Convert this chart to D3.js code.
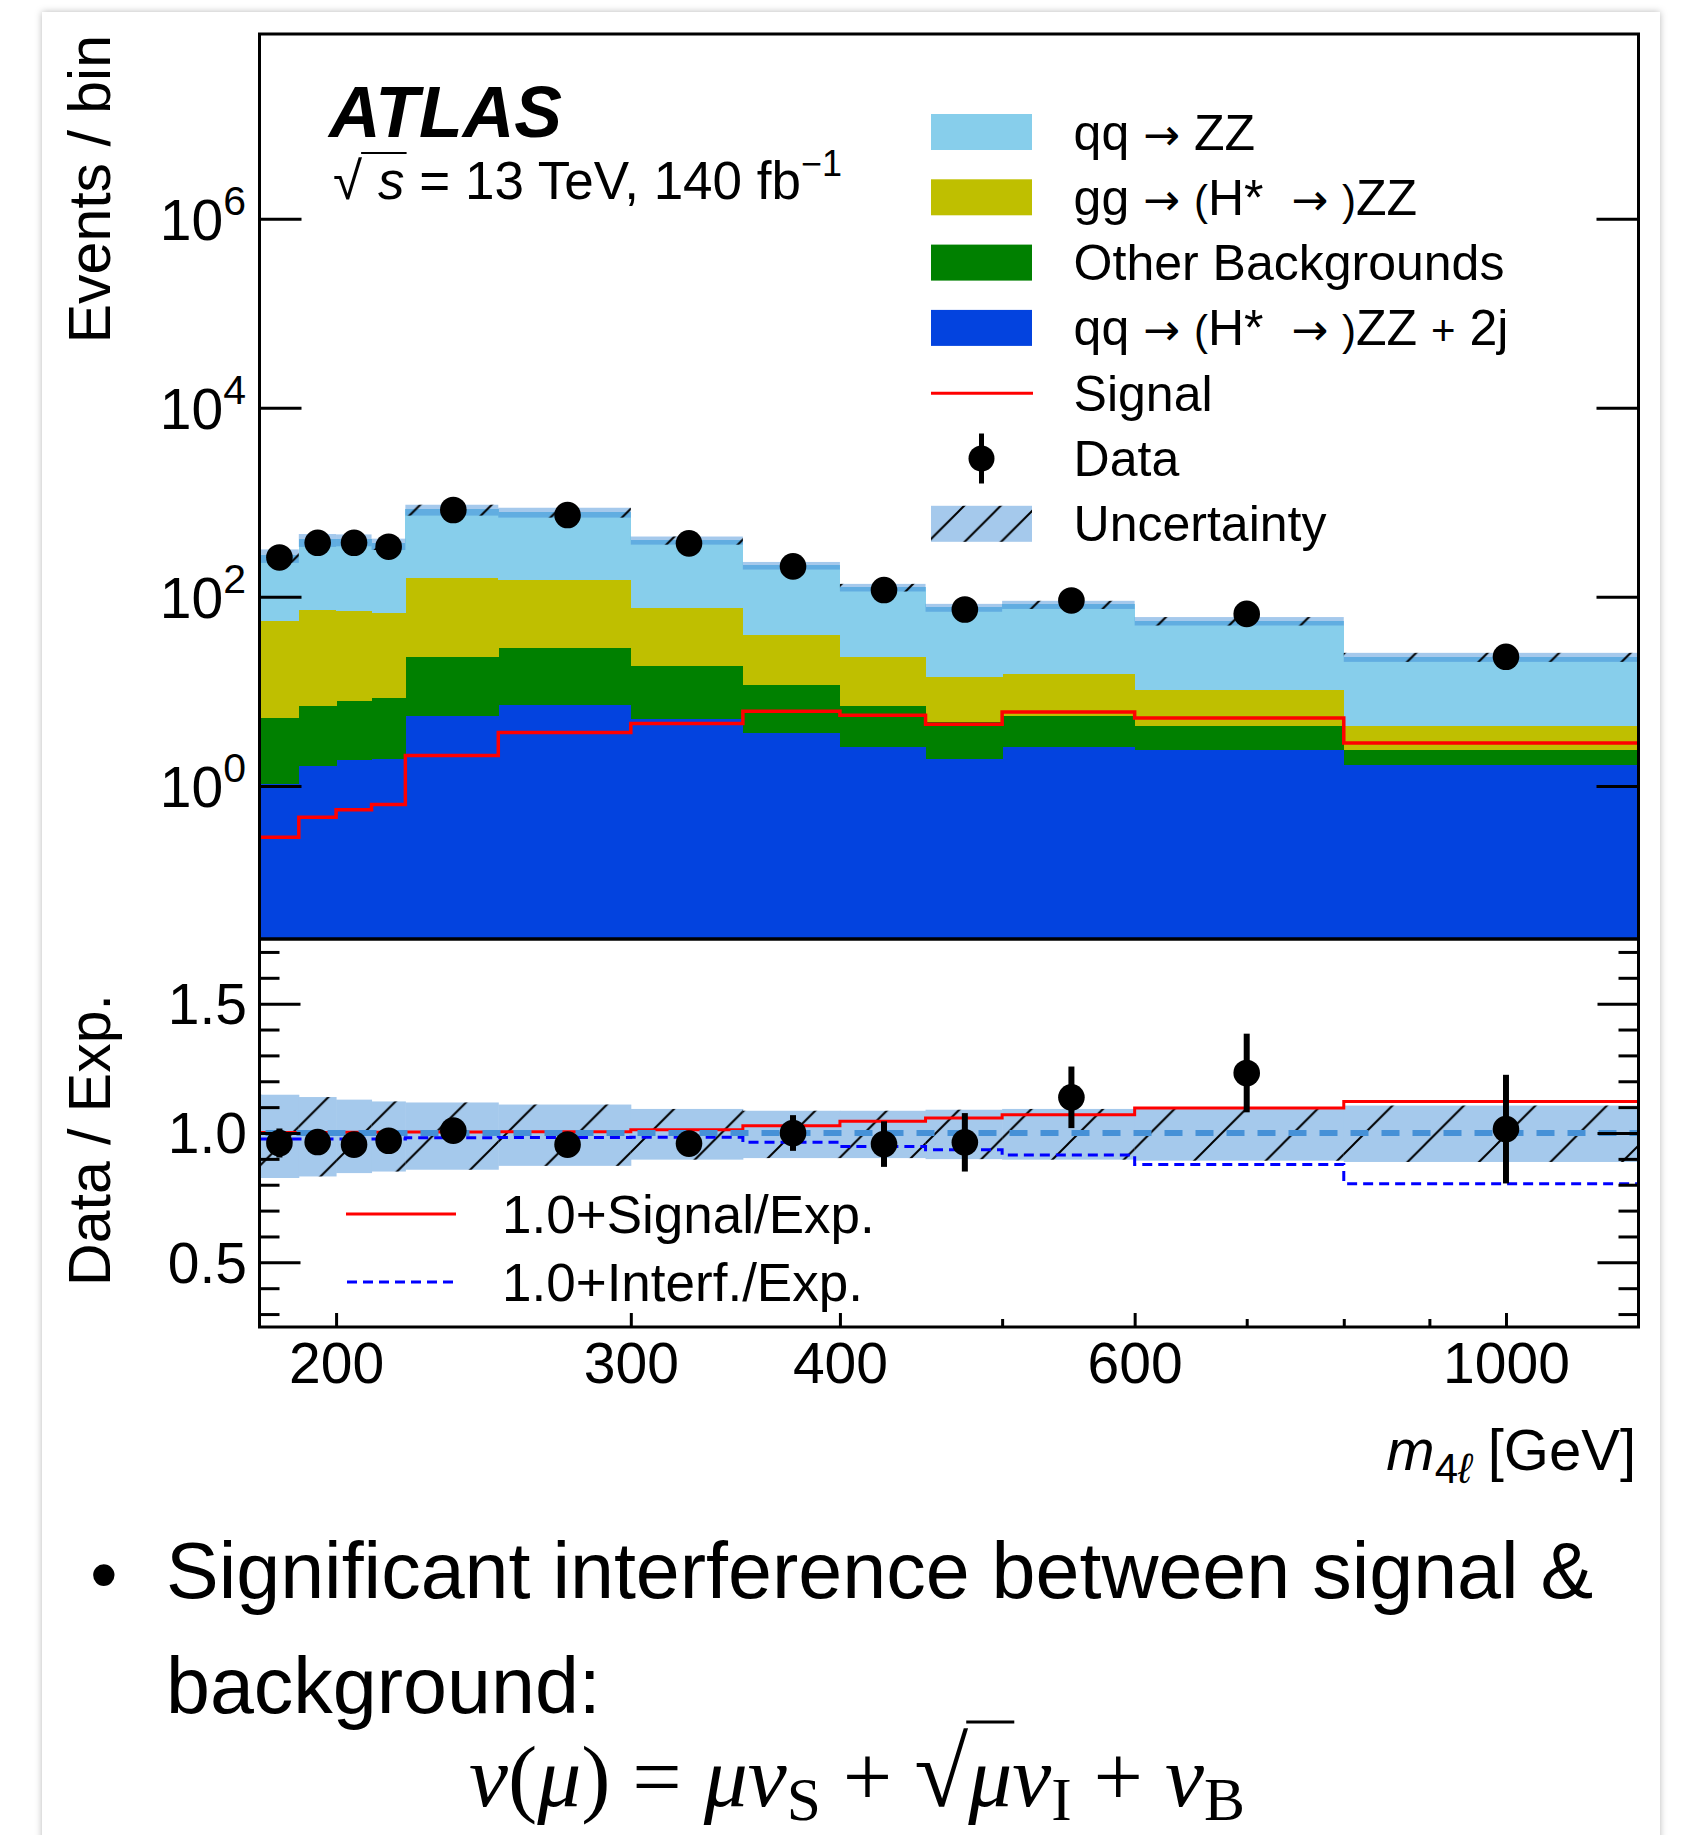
<!DOCTYPE html>
<html>
<head>
<meta charset="utf-8">
<script src="https://cdn.jsdelivr.net/npm/d3@7"></script>
<style>
  body { margin: 0; background: #fff; }
  svg { display: block; }
</style>
</head>
<body>
<script>
// ---- data ----
const binEdges = [180, 190, 200, 210, 220, 250, 300, 350, 400, 450, 500, 600, 800, 1200];

// stacked expectation, bottom to top
const qq2jValues     = [1.06, 1.65, 1.89, 1.94, 5.49, 7.25, 5.15, 3.66, 2.64, 1.97, 2.58, 2.44, 1.68];
const otherBkgValues = [4.27, 5.42, 6.16, 6.72, 18.0, 21.6, 13.5, 8.04, 4.49, 2.85, 3.04, 1.93, 0.74];
const ggZZValues     = [50.4, 66.4, 64.3, 59.0, 136.5, 125.2, 57.9, 28.6, 16.1, 9.68, 9.68, 6.03, 1.93];
const qqZZValues     = [221, 332, 333, 300, 683, 635, 321, 175, 103, 62.8, 67.7, 45.3, 18.75];

const signalValues = [0.287, 0.467, 0.56, 0.637, 2.10, 3.66, 4.56, 6.15, 5.58, 4.48, 6.05, 5.22, 2.84];
const dataValues   = [261, 373, 373, 339, 829, 733, 368, 210, 118, 73.5, 91.6, 66, 23.2];

// relative uncertainty band (ratio to expectation)
const uncUp   = [1.148, 1.139, 1.129, 1.122, 1.118, 1.110, 1.093, 1.086, 1.086, 1.090, 1.093, 1.097, 1.106];
const uncDown = [0.826, 0.832, 0.845, 0.851, 0.858, 0.873, 0.897, 0.903, 0.903, 0.899, 0.897, 0.893, 0.888];

// ratio panel
const ratioData   = [0.961, 0.965, 0.955, 0.970, 1.009, 0.955, 0.959, 1.000, 0.957, 0.964, 1.138, 1.232, 1.015];
const ratioErr    = [0.056, 0.045, 0.046, 0.048, 0.033, 0.035, 0.048, 0.069, 0.088, 0.113, 0.119, 0.152, 0.210];
const ratioSignal = [1.002, 1.002, 1.003, 1.003, 1.004, 1.005, 1.013, 1.028, 1.045, 1.058, 1.071, 1.097, 1.122];
const ratioInterf = [0.977, 0.977, 0.977, 0.977, 0.982, 0.983, 0.984, 0.964, 0.948, 0.935, 0.915, 0.878, 0.804];

// ticks
const yTicksMain   = [1, 1e2, 1e4, 1e6];
const yTicksRatio  = [0.5, 1.0, 1.5];
const yMinorRatio  = [0.3, 0.4, 0.6, 0.7, 0.8, 0.9, 1.1, 1.2, 1.3, 1.4, 1.6, 1.7];
const xTicks       = [200, 300, 400, 600, 1000];
const xMinorTicks  = [500, 700, 800, 900];

const legendLabels = ["qq → ZZ", "gg → (H*  → )ZZ", "Other Backgrounds", "qq → (H*  → )ZZ + 2j", "Signal", "Data", "Uncertainty"];
const ratioLegendLabels = ["1.0+Signal/Exp.", "1.0+Interf./Exp."];

// ---- layout ----
const W = 1681, H = 1835;
const FONT = "'Liberation Sans', Arial, Helvetica, sans-serif";
const SERIF = "'Liberation Serif', 'Times New Roman', serif";
const left = 259.5, right = 1638.5;
const mainTop = 34, mainBottom = 939, ratioBottom = 1327;
const tickFont = 57;

const keys = ["qq2j", "other", "gg", "qqZZ"];
const colors = { qq2j: "#0343df", other: "#008000", gg: "#bfbf00", qqZZ: "#87ceeb" };
const bandFill = "rgba(50,132,212,0.44)";

const rows = binEdges.slice(0, -1).map((lo, i) => ({
  lo, hi: binEdges[i + 1],
  qq2j: qq2jValues[i], other: otherBkgValues[i], gg: ggZZValues[i], qqZZ: qqZZValues[i]
}));
const series = d3.stack().keys(keys)(rows);
const total = rows.map((r, i) => series[keys.length - 1][i][1]);

const x = d3.scaleLog().domain([180, 1200]).range([left, right]);
const yMain = d3.scaleLog().domain([0.024, 9e7]).range([mainBottom, mainTop]);
const yRatio = d3.scaleLinear().domain([0.25, 1.75]).range([ratioBottom, mainBottom]);
const yMinVal = yMain.domain()[0];

const svg = d3.select("body").append("svg").attr("width", W).attr("height", H);
const defs = svg.append("defs");

const shadow = defs.append("filter").attr("id", "shadow").attr("x", -0.05).attr("y", -0.05).attr("width", 1.1).attr("height", 1.1);
shadow.append("feDropShadow").attr("dx", 0).attr("dy", 0).attr("stdDeviation", 3.5)
  .attr("flood-color", "#000").attr("flood-opacity", 0.28);

function hatchPattern(id, step, offset) {
  const p = defs.append("pattern").attr("id", id).attr("patternUnits", "userSpaceOnUse")
    .attr("width", step).attr("height", step).attr("x", offset).attr("y", 0);
  p.append("path")
    .attr("d", `M0,${step} L${step},0 M${-step / 4},${step / 4} L${step / 4},${-step / 4} M${step * 3 / 4},${step * 5 / 4} L${step * 5 / 4},${step * 3 / 4}`)
    .attr("stroke", "#000").attr("stroke-width", 2);
}
hatchPattern("hatch", 71.5, 67);
hatchPattern("hatchLeg", 36.5, 10);

defs.append("clipPath").attr("id", "clipMain").append("rect")
  .attr("x", left).attr("y", mainTop).attr("width", right - left).attr("height", mainBottom - mainTop);
defs.append("clipPath").attr("id", "clipRatio").append("rect")
  .attr("x", left).attr("y", mainBottom).attr("width", right - left).attr("height", ratioBottom - mainBottom);

// slide card
svg.append("rect").attr("width", W).attr("height", H).attr("fill", "#fff");
svg.append("rect").attr("x", 42).attr("y", 12).attr("width", 1618).attr("height", 1900)
  .attr("fill", "#fff").attr("filter", "url(#shadow)");

// ---- main panel ----
const main = svg.append("g").attr("clip-path", "url(#clipMain)");

main.selectAll("g.layer").data(series).join("g").attr("class", "layer")
  .attr("fill", d => colors[d.key])
  .selectAll("rect").data(d => d).join("rect")
  .attr("x", d => x(d.data.lo))
  .attr("width", d => x(d.data.hi) - x(d.data.lo) + 0.5)
  .attr("y", d => yMain(d[1]))
  .attr("height", d => yMain(Math.max(d[0], yMinVal)) - yMain(d[1]) + 0.5)
  .attr("shape-rendering", "crispEdges");

main.append("g").selectAll("rect").data(rows).join("rect")
  .attr("x", d => x(d.lo)).attr("width", d => x(d.hi) - x(d.lo))
  .attr("y", (d, i) => yMain(total[i] * uncUp[i]))
  .attr("height", (d, i) => yMain(total[i] * uncDown[i]) - yMain(total[i] * uncUp[i]))
  .attr("fill", bandFill);
main.append("g").selectAll("rect").data(rows).join("rect")
  .attr("x", d => x(d.lo)).attr("width", d => x(d.hi) - x(d.lo))
  .attr("y", (d, i) => yMain(total[i] * uncUp[i]))
  .attr("height", (d, i) => yMain(total[i] * uncDown[i]) - yMain(total[i] * uncUp[i]))
  .attr("fill", "url(#hatch)");

function stepPoints(values) {
  const pts = values.map((v, i) => [binEdges[i], v]);
  pts.push([binEdges[binEdges.length - 1], values[values.length - 1]]);
  return pts;
}
const mainLine = d3.line().curve(d3.curveStepAfter).x(d => x(d[0])).y(d => yMain(d[1]));
main.append("path").attr("d", mainLine(stepPoints(signalValues)))
  .attr("fill", "none").attr("stroke", "#ff0000").attr("stroke-width", 3.5);

const mid = r => (r.lo + r.hi) / 2;
main.append("g").selectAll("line").data(rows).join("line")
  .attr("x1", d => x(mid(d))).attr("x2", d => x(mid(d)))
  .attr("y1", (d, i) => yMain(dataValues[i] * (1 + ratioErr[i] / ratioData[i])))
  .attr("y2", (d, i) => yMain(dataValues[i] * (1 - ratioErr[i] / ratioData[i])))
  .attr("stroke", "#000").attr("stroke-width", 5);
main.append("g").selectAll("circle").data(rows).join("circle")
  .attr("cx", d => x(mid(d))).attr("cy", (d, i) => yMain(dataValues[i])).attr("r", 13.3)
  .attr("fill", "#000");

// ---- ratio panel ----
const ratio = svg.append("g").attr("clip-path", "url(#clipRatio)");
["#a5c9ec", "url(#hatch)"].forEach(fill => {
  ratio.append("g").selectAll("rect").data(rows).join("rect")
    .attr("x", d => x(d.lo)).attr("width", d => x(d.hi) - x(d.lo) + (fill === "#a5c9ec" ? 0.5 : 0))
    .attr("y", (d, i) => yRatio(uncUp[i]))
    .attr("height", (d, i) => yRatio(uncDown[i]) - yRatio(uncUp[i]))
    .attr("fill", fill);
});
const ratioLine = d3.line().curve(d3.curveStepAfter).x(d => x(d[0])).y(d => yRatio(d[1]));
ratio.append("path").attr("d", ratioLine(stepPoints(ratioSignal)))
  .attr("fill", "none").attr("stroke", "#ff0000").attr("stroke-width", 3);
ratio.append("path").attr("d", ratioLine(stepPoints(ratioInterf)))
  .attr("fill", "none").attr("stroke", "#0000ff").attr("stroke-width", 3).attr("stroke-dasharray", "10,6");
ratio.append("line").attr("x1", left + 6).attr("x2", right).attr("y1", yRatio(1)).attr("y2", yRatio(1))
  .attr("stroke", "#4691d7").attr("stroke-width", 6).attr("stroke-dasharray", "18,13");

ratio.append("g").selectAll("line").data(rows).join("line")
  .attr("x1", d => x(mid(d))).attr("x2", d => x(mid(d)))
  .attr("y1", (d, i) => yRatio(ratioData[i] + ratioErr[i]))
  .attr("y2", (d, i) => yRatio(ratioData[i] - ratioErr[i]))
  .attr("stroke", "#000").attr("stroke-width", 6);
ratio.append("g").selectAll("circle").data(rows).join("circle")
  .attr("cx", d => x(mid(d))).attr("cy", (d, i) => yRatio(ratioData[i])).attr("r", 13.3)
  .attr("fill", "#000");

// ---- axes ----
function styleAxis(g) {
  g.attr("font-family", FONT).attr("font-size", tickFont);
  g.select(".domain").remove();
  g.selectAll("line").attr("stroke", "#000").attr("stroke-width", 3);
  g.selectAll("text").attr("fill", "#000");
}
svg.append("g").attr("transform", `translate(${left},0)`)
  .call(d3.axisLeft(yMain).tickValues(yTicksMain).tickSize(-42).tickFormat("")).call(styleAxis);
svg.append("g").attr("transform", `translate(${right},0)`)
  .call(d3.axisRight(yMain).tickValues(yTicksMain).tickSize(-42).tickFormat("")).call(styleAxis);

svg.append("g").selectAll("text").data(yTicksMain).join("text")
  .attr("x", 246).attr("y", d => yMain(d) + 21)
  .attr("text-anchor", "end").attr("font-family", FONT).attr("font-size", tickFont)
  .each(function (d) {
    const t = d3.select(this);
    t.append("tspan").text("10");
    t.append("tspan").attr("font-size", 41).attr("dy", -25).text(Math.round(Math.log10(d)));
  });

svg.append("g").attr("transform", `translate(${left},0)`)
  .call(d3.axisLeft(yRatio).tickValues(yTicksRatio).tickSize(-41).tickPadding(12.5).tickFormat(d3.format(".1f")))
  .call(styleAxis).selectAll("text").attr("dy", "0.35em");
svg.append("g").attr("transform", `translate(${left},0)`)
  .call(d3.axisLeft(yRatio).tickValues(yMinorRatio).tickSize(-20).tickFormat("")).call(styleAxis);
svg.append("g").attr("transform", `translate(${right},0)`)
  .call(d3.axisRight(yRatio).tickValues(yTicksRatio).tickSize(-41).tickFormat("")).call(styleAxis);
svg.append("g").attr("transform", `translate(${right},0)`)
  .call(d3.axisRight(yRatio).tickValues(yMinorRatio).tickSize(-20).tickFormat("")).call(styleAxis);

svg.append("g").attr("transform", `translate(0,${ratioBottom})`)
  .call(d3.axisBottom(x).tickValues(xTicks).tickSize(-14).tickFormat(d3.format("d")))
  .call(styleAxis).selectAll("text").attr("y", 56).attr("dy", 0);
svg.append("g").attr("transform", `translate(0,${ratioBottom})`)
  .call(d3.axisBottom(x).tickValues(xMinorTicks).tickSize(-8).tickFormat("")).call(styleAxis);

// frames
[[mainTop, mainBottom], [mainBottom, ratioBottom]].forEach(([t, b]) => {
  svg.append("rect").attr("x", left).attr("y", t).attr("width", right - left).attr("height", b - t)
    .attr("fill", "none").attr("stroke", "#000").attr("stroke-width", 3);
});

// axis titles
svg.append("text").attr("transform", "translate(110,35) rotate(-90)")
  .attr("text-anchor", "end").attr("font-family", FONT).attr("font-size", 59).text("Events / bin");
svg.append("text").attr("transform", "translate(110,1140) rotate(-90)")
  .attr("text-anchor", "middle").attr("font-family", FONT).attr("font-size", 59).text("Data / Exp.");

const xt = svg.append("text").attr("x", 1636).attr("y", 1470).attr("text-anchor", "end")
  .attr("font-family", FONT).attr("font-size", 58);
xt.append("tspan").attr("font-style", "italic").text("m");
xt.append("tspan").attr("font-size", 42).attr("dy", 13).text("4");
xt.append("tspan").attr("font-size", 42).attr("font-style", "italic").text("ℓ");
xt.append("tspan").attr("dy", -13).text(" [GeV]");

// ATLAS label
svg.append("text").attr("x", 329).attr("y", 137).attr("font-family", FONT)
  .attr("font-size", 71.5).attr("font-weight", "bold").attr("font-style", "italic").text("ATLAS");
const lumi = svg.append("text").attr("x", 333).attr("y", 199).attr("font-family", FONT).attr("font-size", 53)
  .style("white-space", "pre");
const sq = lumi.append("tspan").text("√");
const sS = lumi.append("tspan").attr("dx", 16).attr("font-style", "italic").text("s");
lumi.append("tspan").text(" = 13 TeV, 140 fb");
lumi.append("tspan").attr("font-size", 36).attr("dy", -23).text("−1");
{
  const sqEnd = sq.node().getEndPositionOfChar(0).x;
  const sEnd = sS.node().getEndPositionOfChar(0).x;
  svg.append("line").attr("x1", sqEnd - 1).attr("x2", sEnd + 2).attr("y1", 153).attr("y2", 153)
    .attr("stroke", "#000").attr("stroke-width", 2);
}

// ---- legend ----
const legRowY = d3.range(legendLabels.length).map(i => 132 + i * 65.3);
const leg = svg.append("g");
const legX0 = 931, legX1 = 1032;
keys.slice().reverse().forEach((k, i) => {
  leg.append("rect").attr("x", legX0).attr("y", legRowY[i] - 18).attr("width", legX1 - legX0).attr("height", 36)
    .attr("fill", colors[k]);
});
leg.append("line").attr("x1", legX0).attr("x2", legX1 + 1).attr("y1", legRowY[4]).attr("y2", legRowY[4])
  .attr("stroke", "#ff0000").attr("stroke-width", 3);
leg.append("line").attr("x1", (legX0 + legX1) / 2).attr("x2", (legX0 + legX1) / 2)
  .attr("y1", legRowY[5] - 25).attr("y2", legRowY[5] + 25).attr("stroke", "#000").attr("stroke-width", 5);
leg.append("circle").attr("cx", (legX0 + legX1) / 2).attr("cy", legRowY[5]).attr("r", 13).attr("fill", "#000");
["#a5c9ec", "url(#hatchLeg)"].forEach(f => {
  leg.append("rect").attr("x", legX0).attr("y", legRowY[6] - 18).attr("width", legX1 - legX0).attr("height", 36)
    .attr("fill", f);
});
leg.selectAll("text").data(legendLabels).join("text")
  .attr("x", 1073.6).attr("y", (d, i) => legRowY[i] + 17.5)
  .attr("font-family", FONT).attr("font-size", 50).style("white-space", "pre")
  .each(function (d) {
    const t = d3.select(this);
    d.split(/([→()+])/).filter(s => s.length).forEach(s => {
      const ts = t.append("tspan").text(s);
      if (s === "→") ts.attr("font-family", "'DejaVu Sans', sans-serif").attr("font-size", 44);
      if (s === "(" || s === ")" || s === "+") ts.attr("font-size", 42);
    });
  });

// ratio legend
const rlegY = [1214, 1282];
svg.append("line").attr("x1", 346).attr("x2", 456).attr("y1", rlegY[0]).attr("y2", rlegY[0])
  .attr("stroke", "#ff0000").attr("stroke-width", 3);
svg.append("line").attr("x1", 347).attr("x2", 454).attr("y1", rlegY[1]).attr("y2", rlegY[1])
  .attr("stroke", "#0000ff").attr("stroke-width", 3).attr("stroke-dasharray", "10,6");
svg.append("g").selectAll("text").data(ratioLegendLabels).join("text")
  .attr("x", 502).attr("y", (d, i) => rlegY[i] + 19)
  .attr("font-family", FONT).attr("font-size", 53).text(d => d);

// ---- slide text ----
svg.append("text").attr("x", 90).attr("y", 1602).attr("font-family", FONT).attr("font-size", 79).text("•");
svg.append("text").attr("x", 166).attr("y", 1598).attr("font-family", FONT).attr("font-size", 79)
  .text("Significant interference between signal &");
svg.append("text").attr("x", 166).attr("y", 1713).attr("font-family", FONT).attr("font-size", 79)
  .text("background:");

const fx = 469, fWidth = 776, fBase = 1806;
const formula = svg.append("text").attr("x", fx).attr("y", fBase).attr("font-family", SERIF)
  .attr("font-size", 64).style("white-space", "pre");
const it = s => formula.append("tspan").attr("font-style", "italic").text(s);
const up = s => formula.append("tspan").text(s);
const sub = s => formula.append("tspan").attr("font-size", "0.7em").attr("dy", "0.22em").text(s);
const back = s => formula.append("tspan").attr("dy", "-0.154em").text(s);
it("ν"); up("("); it("μ"); up(")"); up(" = "); it("μν"); sub("S"); back(" + ");
const rad = up("√").attr("font-size", "1.12em");
const muRad = it("μ"); it("ν"); sub("I"); back(" + "); it("ν"); sub("B");
{
  const w0 = formula.node().getComputedTextLength();
  formula.attr("font-size", 64 * fWidth / w0);
  const rb = rad.node().getBBox();
  const radEnd = rad.node().getEndPositionOfChar(0).x;
  const muEnd = muRad.node().getEndPositionOfChar(0).x;
  svg.append("line").attr("x1", radEnd - 2).attr("x2", muEnd + 2)
    .attr("y1", rb.y + 4).attr("y2", rb.y + 4).attr("stroke", "#000").attr("stroke-width", 3);
}
</script>
</body>
</html>
